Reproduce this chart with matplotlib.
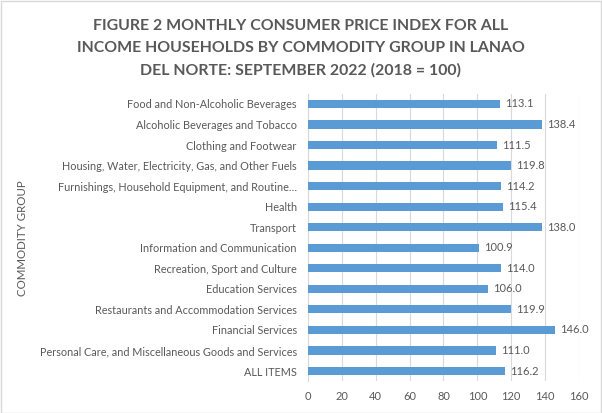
import matplotlib.pyplot as plt
from matplotlib.patches import Rectangle

categories = [
    "Food and Non-Alcoholic Beverages",
    "Alcoholic Beverages and Tobacco",
    "Clothing and Footwear",
    "Housing, Water, Electricity, Gas, and Other Fuels",
    "Furnishings, Household Equipment, and Routine\u2026",
    "Health",
    "Transport",
    "Information and Communication",
    "Recreation, Sport and Culture",
    "Education Services",
    "Restaurants and Accommodation Services",
    "Financial Services",
    "Personal Care, and Miscellaneous Goods and Services",
    "ALL ITEMS",
]
values = [113.1, 138.4, 111.5, 119.8, 114.2, 115.4, 138.0, 100.9, 114.0, 106.0, 119.9, 146.0, 111.0, 116.2]
xticks = [0, 20, 40, 60, 80, 100, 120, 140, 160]

plt.rcParams["font.family"] = ["Lato", "DejaVu Sans"]
text_color = "#595959"

fig = plt.figure(figsize=(6.02, 4.13), dpi=100)
fig.patches.append(Rectangle((0.001, 0.001), 0.997, 0.997, transform=fig.transFigure,
                             fill=False, edgecolor="#D9D9D9", linewidth=1))
ax = fig.add_axes([0.5116, 0.0768, 0.4502, 0.6963])

y = list(range(len(categories)))
ax.barh(y, values, height=0.4, color="#5B9BD5", zorder=3)
for yi, v in zip(y, values):
    ax.text(v + 3, yi, f"{v:.1f}", va="center", ha="left", fontsize=8, color=text_color)

ax.set_ylim(len(categories) - 0.5, -0.5)
ax.set_xlim(0, 160)
ax.set_yticks(y)
ax.set_yticklabels(categories, fontsize=7.8, color=text_color)
ax.set_xticks(xticks)
ax.set_xticklabels([str(t) for t in xticks], fontsize=8, color=text_color)
ax.tick_params(axis="both", length=0)
ax.tick_params(axis="y", pad=8)
ax.tick_params(axis="x", pad=7)
ax.grid(axis="x", color="#D9D9D9", linewidth=0.8, zorder=0)
for side in ["top", "right", "bottom"]:
    ax.spines[side].set_visible(False)
ax.spines["left"].set_color("#D9D9D9")

fig.text(0.037, 0.424, "COMMODITY GROUP", rotation=90, ha="center", va="center",
         fontsize=8.3, color=text_color)

fig.text(0.5, 0.883, "FIGURE 2 MONTHLY CONSUMER PRICE INDEX FOR ALL\n"
         "INCOME HOUSEHOLDS BY COMMODITY GROUP IN LANAO\n"
         "DEL NORTE: SEPTEMBER 2022 (2018 = 100)",
         ha="center", va="center", fontsize=11.4, fontweight="bold",
         color=text_color, linespacing=1.75)

fig.savefig("out.png", dpi=100)
